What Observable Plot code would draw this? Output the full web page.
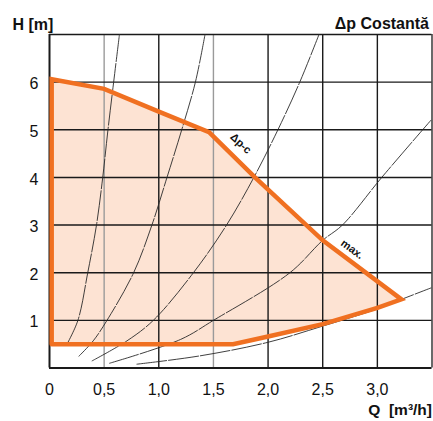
<!DOCTYPE html>
<html><head><meta charset="utf-8">
<script src="https://cdn.jsdelivr.net/npm/d3@7"></script>
<script src="https://cdn.jsdelivr.net/npm/@observablehq/plot@0.6"></script>
<style>body{margin:0;background:#fff}</style>
</head><body><div id="chart"></div>
<script>
// Axis ticks
const qTicks = [0, 0.5, 1, 1.5, 2, 2.5, 3];
const qTickLabels = ["0", "0,5", "1,0", "1,5", "2,0", "2,5", "3,0"];
const hTicks = [1, 2, 3, 4, 5, 6];
const qGridDark = [1, 2, 2.5, 3];
const qGridLight = [0.5, 1.5];

// Operating envelope (Q [m3/h], H [m])
const envelopeTop = [[0.02, 6.06], [0.5, 5.86], [1.0, 5.38], [1.46, 4.95], [1.88, 4.0], [2.5, 2.68], [3.22, 1.44]];
const envelopeBottom = [[0.02, 0.5], [1.68, 0.5], [2.0, 0.66], [2.5, 0.92], [3.0, 1.26], [3.22, 1.44]];

// System curves
const sysCurve1 = [[0.16, 0.5], [0.26, 1], [0.35, 2], [0.43, 3], [0.487, 4], [0.535, 5], [0.587, 6], [0.64, 7]];
const sysCurve2 = [[0.27, 0.25], [0.40, 0.57], [0.526, 1], [0.77, 2], [0.937, 3], [1.075, 4], [1.21, 5], [1.335, 6], [1.423, 7]];
const sysCurve3 = [[0.39, 0.15], [0.709, 0.57], [0.95, 1], [1.317, 2], [1.62, 3], [1.87, 4], [2.09, 5], [2.29, 6], [2.466, 7]];
const sysCurve4 = [[0.55, 0.1], [1.2, 0.6], [1.5, 1.0], [2.2, 2.0], [2.5, 2.68], [2.68, 3.0], [3.04, 4.0], [3.49, 5.2]];
const sysCurve5 = [[0.8, 0.08], [1.378, 0.255], [2.0, 0.54], [2.5, 0.88], [3.0, 1.24], [3.22, 1.44], [3.49, 1.68]];

// Curve annotations
const curveLabels = ["Δp-c", "max."];
const curveLabelQ = [1.75, 2.77];
const curveLabelH = [4.71, 2.49];
const curveLabelAngle = [43, 36];

const polygon = [[0.02, 0.5], ...envelopeTop, ...envelopeBottom.slice(0, -1).reverse()]
  .map(([q, h]) => ({q, h}));
const sysCurves = [sysCurve1, sysCurve2, sysCurve3, sysCurve4, sysCurve5]
  .flatMap((c, i) => c.map(([q, h]) => ({q, h, id: i})));
const labels = curveLabels.map((t, i) => ({t, q: curveLabelQ[i], h: curveLabelH[i], a: curveLabelAngle[i]}));

const orange = "#f07021";
const font = "'Liberation Sans', Arial, sans-serif";

const chart = Plot.plot({
  width: 433,
  height: 421,
  marginLeft: 49,
  marginRight: 1.5,
  marginTop: 34,
  marginBottom: 53.5,
  style: {fontFamily: font, background: "#fff", color: "#111"},
  x: {domain: [0, 3.5]},
  y: {domain: [0, 7]},
  marks: [
    Plot.line(polygon, {x: "q", y: "h", fill: "#fde3d3", stroke: "none"}),
    Plot.ruleX(qGridLight, {stroke: "#9a9a9a", strokeWidth: 1.4}),
    Plot.ruleX(qGridDark, {stroke: "#1a1a1a", strokeWidth: 1.4}),
    Plot.ruleY(hTicks, {stroke: "#1a1a1a", strokeWidth: 1.4}),
    Plot.ruleY([7], {stroke: "#1a1a1a", strokeWidth: 1.5}),
    Plot.ruleX([3.5], {stroke: "#1a1a1a", strokeWidth: 1.3}),
    Plot.ruleX([0], {stroke: "#1a1a1a", strokeWidth: 2}),
    Plot.ruleY([0], {stroke: "#1a1a1a", strokeWidth: 2}),
    Plot.line(sysCurves, {x: "q", y: "h", z: "id", curve: "catmull-rom", stroke: "#2a2a2a", strokeWidth: 0.9, strokeDasharray: "30,2"}),
    Plot.line(polygon, {x: "q", y: "h", stroke: orange, strokeWidth: 4.5, strokeLinejoin: "miter", strokeMiterlimit: 10}),
    Plot.text(labels, {x: "q", y: "h", text: "t", rotate: "a", fontSize: 11, fontWeight: "bold", fill: "#111"}),
    Plot.axisX(qTicks, {tickSize: 0, tickPadding: 16, fontSize: 16, tickFormat: (d, i) => qTickLabels[i], label: null}),
    Plot.axisY(hTicks, {tickSize: 0, tickPadding: 11, fontSize: 16, dy: 2, label: null}),
    Plot.text(["H [m]"], {frameAnchor: "top-left", dx: -37, dy: -5, textAnchor: "start", lineAnchor: "bottom", fontSize: 16, fontWeight: "bold"}),
    Plot.text(["Δp Costantă"], {frameAnchor: "top-right", dx: -3, dy: -6, textAnchor: "end", lineAnchor: "bottom", fontSize: 16, fontWeight: "bold"}),
    Plot.text(["Q  [m³/h]"], {frameAnchor: "bottom-right", dx: 0, dy: 47, textAnchor: "end", lineAnchor: "bottom", fontSize: 15.5, fontWeight: "bold"})
  ]
});
document.getElementById("chart").appendChild(chart);
</script>
</body></html>
